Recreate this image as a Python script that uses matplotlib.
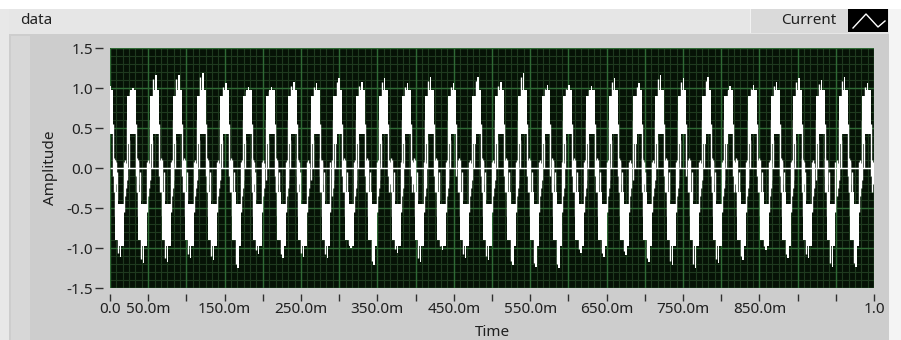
import matplotlib
matplotlib.use("Agg")
import matplotlib.pyplot as plt
from matplotlib.patches import Rectangle
from matplotlib.lines import Line2D

# ---------------- data ----------------
# start time (s) of each positive block and its peak amplitude
pos_start = [-0.007, 0.0223, 0.0524, 0.0825, 0.1139, 0.144, 0.174, 0.204, 0.233,
             0.263, 0.292, 0.322, 0.352, 0.382, 0.412, 0.442, 0.474, 0.504,
             0.534, 0.565, 0.593, 0.623, 0.653, 0.685, 0.713, 0.743, 0.775,
             0.804, 0.835, 0.865, 0.894, 0.924, 0.954, 0.984]
pos_peak = [1.02, 1.00, 1.16, 1.16, 1.19, 1.06, 1.01, 1.01, 1.08, 1.06, 1.12,
            1.08, 1.12, 1.06, 1.14, 1.06, 1.14, 1.08, 1.19, 1.04, 1.04, 1.02,
            1.12, 1.06, 1.16, 1.12, 1.14, 1.02, 1.04, 1.08, 1.12, 1.10, 1.14,
            1.06]
# start time (s) of each negative block and its trough amplitude
neg_start = [0.0065, 0.0366, 0.068, 0.098, 0.128, 0.160, 0.187, 0.219, 0.246,
             0.277, 0.308, 0.338, 0.369, 0.399, 0.428, 0.458, 0.488, 0.520,
             0.550, 0.580, 0.609, 0.639, 0.668, 0.698, 0.729, 0.759, 0.789,
             0.821, 0.851, 0.880, 0.907, 0.938, 0.969]
neg_peak = [-1.11, -1.19, -1.17, -1.13, -1.15, -1.25, -1.08, -1.12, -1.11,
            -1.12, -1.00, -1.21, -1.06, -1.17, -1.03, -1.13, -1.15, -1.21,
            -1.24, -1.25, -1.06, -1.11, -1.09, -1.17, -1.21, -1.25, -1.19,
            -1.15, -1.03, -1.13, -1.13, -1.24, -1.24]

y_ticks = [-1.5, -1.0, -0.5, 0.0, 0.5, 1.0, 1.5]
y_ticklabels = ["-1.5", "-1.0", "-0.5", "0.0", "0.5", "1.0", "1.5"]
x_ticks = [i * 0.05 for i in range(21)]
x_ticklabels = ["0.0", "50.0m", "", "150.0m", "", "250.0m", "", "350.0m", "",
                "450.0m", "", "550.0m", "", "650.0m", "", "750.0m", "",
                "850.0m", "", "", "1.0"]

# ---------------- styling ----------------
FONT = "Noto Sans"
FS = 11
W_FIG, H_FIG = 901, 340
fig = plt.figure(figsize=(W_FIG / 100, H_FIG / 100), dpi=100)
fig.patch.set_facecolor("#ffffff")

def frect(x0, y0, x1, y1, color):
    # pixel coords (top-left origin) -> figure fraction
    fig.patches.append(Rectangle((x0 / W_FIG, 1 - y1 / H_FIG),
                                 (x1 - x0) / W_FIG, (y1 - y0) / H_FIG,
                                 transform=fig.transFigure, facecolor=color,
                                 edgecolor="none", zorder=-10))

# header strip and panel
frect(0, 9, 901, 34, "#e6e6e6")
frect(0, 9, 9, 340, "#e8e8e8")
frect(9, 34, 889, 340, "#cdcdcd")
frect(11, 36, 30, 340, "#d7d7d7")
frect(889, 9, 901, 340, "#f4f4f4")
# legend area
frect(750, 9, 848, 33, "#dadada")
frect(750, 9, 751, 33, "#f2f2f2")
frect(848, 9, 888, 32, "#000000")
fig.lines.append(Line2D([853 / W_FIG, 866 / W_FIG, 878 / W_FIG, 885 / W_FIG],
                        [1 - 28 / H_FIG, 1 - 14 / H_FIG, 1 - 27 / H_FIG, 1 - 21 / H_FIG],
                        transform=fig.transFigure, color="white", lw=1.0, zorder=5))

fig.text(20 / W_FIG, 1 - 20 / H_FIG, "data", family=FONT, fontsize=FS,
         color="#202020", va="center", ha="left")
fig.text(836 / W_FIG, 1 - 20 / H_FIG, "Current", family=FONT, fontsize=FS,
         color="#202020", va="center", ha="right")

# axes
L, R, T, B = 110, 874, 48, 288
ax = fig.add_axes([L / W_FIG, 1 - B / H_FIG, (R - L) / W_FIG, (B - T) / H_FIG])
ax.set_zorder(2)
ax.set_facecolor("#061206")
ax.set_xlim(0, 1)
ax.set_ylim(-1.5, 1.5)

# grid
minor_x = [i * 0.05 / 6 for i in range(121)]
minor_y = [-1.5 + i * 0.1 for i in range(31)]
ax.vlines(minor_x, -1.5, 1.5, color="#1f3a1f", lw=0.8, zorder=1)
ax.hlines(minor_y, 0, 1, color="#1f3a1f", lw=0.8, zorder=1)
ax.vlines(x_ticks, -1.5, 1.5, color="#2f6a35", lw=1.0, zorder=1.5)
ax.hlines(y_ticks, 0, 1, color="#2f6a35", lw=1.0, zorder=1.5)

WB = 0.0115
wcol = "white"
lw = 1.0

def box(x0, x1, y0, y1):
    ax.bar(x0, y1 - y0, width=x1 - x0, bottom=y0, align="edge",
           color=wcol, linewidth=0, zorder=3)

def vl(xs, y0, y1):
    ax.vlines(xs, y0, y1, color=wcol, lw=lw, zorder=3)

# zero line trace
ax.hlines(0.0, 0, 1, color=wcol, lw=lw, zorder=3)

for s, p in zip(pos_start, pos_peak):
    top = min(p, 1.0)
    box(s, s + 0.0045, 0.30, top - 0.10)
    box(s + 0.0045, s + WB, 0.42, top - 0.02)
    box(s + 0.0065, s + 0.0085, 0.75, p)
    vl([s + 0.0045], 0.6, p - 0.05)
    vl([s, s + WB], [-0.15, -0.1], [0.6, 0.55])
    vl([s + 0.0025], 0.0, 0.35)
    vl([s + WB + 0.0015, s + WB + 0.003], [-0.3, -0.2], [0.1, 0.08])

for n, q in zip(neg_start, neg_peak):
    bot = max(q, -1.0)
    box(n, n + 0.0045, bot + 0.10, -0.30)
    box(n + 0.0045, n + WB, bot + 0.02, -0.45)
    box(n + 0.0065, n + 0.0085, q, -0.75)
    vl([n + 0.0045], q + 0.05, -0.6)
    vl([n, n + WB], [-0.6, -0.55], [0.1, 0.08])
    vl([n + 0.0025], -0.4, -0.05)
    vl([n + WB + 0.0015, n - 0.0015, n + WB + 0.003], [-0.35, -0.3, -0.25],
       [0.1, 0.12, 0.06])

# ticks
for sp in ax.spines.values():
    sp.set_visible(False)
ax.spines["left"].set_position(("outward", 5))
ax.spines["bottom"].set_position(("outward", 4))
ax.set_yticks(y_ticks)
ax.set_yticklabels(y_ticklabels, family=FONT, fontsize=FS, color="#202020")
ax.set_xticks(x_ticks)
ax.set_xticklabels(x_ticklabels, family=FONT, fontsize=FS, color="#202020")
ax.tick_params(axis="y", direction="out", length=6, width=1, color="#303030", pad=1)
ax.tick_params(axis="x", direction="out", length=5, width=1, color="#303030", pad=1)

fig.text(492 / W_FIG, 1 - 332 / H_FIG, "Time", family=FONT, fontsize=FS,
         color="#202020", ha="center", va="center")
fig.text(50 / W_FIG, 1 - 168 / H_FIG, "Amplitude", family=FONT, fontsize=FS,
         color="#202020", ha="center", va="center", rotation=90)

fig.savefig("out.png", dpi=100, facecolor=fig.get_facecolor())
